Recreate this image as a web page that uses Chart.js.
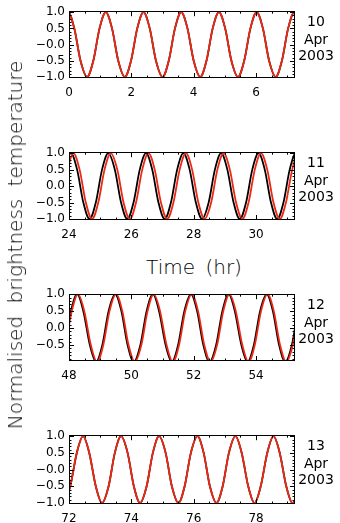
<!DOCTYPE html>
<html><head><meta charset="utf-8">
<script src="https://cdn.jsdelivr.net/npm/chart.js@4/dist/chart.umd.min.js"></script>
<style>
html,body{margin:0;padding:0;background:#fff;width:340px;height:523px;overflow:hidden;position:relative;}
canvas{position:absolute;left:0;}
.t{position:absolute;font-family:"DejaVu Sans",sans-serif;color:#000;white-space:nowrap;transform:translate(-50%,-50%);line-height:1;}
</style></head><body>
<script>
// ---------- data ----------
const panelDates = [['10','Apr','2003'],['11','Apr','2003'],['12','Apr','2003'],['13','Apr','2003']];
const xMins = [0, 24, 48, 72];
const xMaxs = [7.25, 31.25, 55.25, 79.25];
const yMins = [-1.03, -1.03, -0.97, -1.03];
const yMaxs = [1.03, 1.03, 1.0, 1.03];
const yTickValues = [-1, -0.5, 0, 0.5, 1];
const yTickLabels = [
  ['\u22121.0','\u22120.5','\u22120.0','0.5','1.0'],
  ['\u22121.0','\u22120.5','0.0','0.5','1.0'],
  ['\u22121.0','\u22120.5','0.0','0.5','1.0'],
  ['\u22121.0','\u22120.5','\u22120.0','0.5','1.0']
];

// panel 1 (10 Apr): black and red coincide
const time1 = [-0.23,-0.03,0.17,0.37,0.58,0.78,0.98,1.18,1.38,1.58,1.79,1.99,2.19,2.39,2.59,2.79,3.0,3.2,3.4,3.6,3.8,4.0,4.21,4.41,4.61,4.81,5.01,5.21,5.42,5.62,5.82,6.02,6.22,6.42,6.63,6.83,7.03,7.23,7.43,7.63];
const value1 = [0.5,1,0.5,-0.5,-1,-0.5,0.5,1,0.5,-0.5,-1,-0.5,0.5,1,0.5,-0.5,-1,-0.5,0.5,1,0.5,-0.5,-1,-0.5,0.5,1,0.5,-0.5,-1,-0.5,0.5,1,0.5,-0.5,-1,-0.5,0.5,1,0.5,-0.5];

// panel 2 (11 Apr)
const time2Red = [23.94,24.14,24.34,24.54,24.74,24.94,25.14,25.34,25.55,25.75,25.95,26.15,26.35,26.55,26.75,26.95,27.15,27.35,27.55,27.75,27.95,28.15,28.35,28.56,28.76,28.96,29.16,29.36,29.56,29.76,29.96,30.16,30.36,30.56,30.76,30.96,31.16,31.36,31.57,31.77];
const time2Black = [23.86,24.06,24.26,24.46,24.66,24.86,25.06,25.26,25.47,25.67,25.87,26.07,26.27,26.47,26.67,26.87,27.07,27.27,27.47,27.67,27.87,28.07,28.27,28.48,28.68,28.88,29.08,29.28,29.48,29.68,29.88,30.08,30.28,30.48,30.68,30.88,31.08,31.28,31.49,31.69];
const value2 = [0.5,1,0.5,-0.5,-1,-0.5,0.5,1,0.5,-0.5,-1,-0.5,0.5,1,0.5,-0.5,-1,-0.5,0.5,1,0.5,-0.5,-1,-0.5,0.5,1,0.5,-0.5,-1,-0.5,0.5,1,0.5,-0.5,-1,-0.5,0.5,1,0.5,-0.5];

// panel 3 (12 Apr)
const time3Red = [47.89,48.09,48.29,48.49,48.7,48.9,49.1,49.3,49.51,49.71,49.91,50.11,50.32,50.52,50.72,50.92,51.13,51.33,51.53,51.73,51.94,52.14,52.34,52.54,52.75,52.95,53.15,53.35,53.56,53.76,53.96,54.16,54.37,54.57,54.77,54.97,55.18,55.38,55.58,55.78];
const time3Black = [47.86,48.06,48.26,48.46,48.67,48.87,49.07,49.27,49.48,49.68,49.88,50.08,50.29,50.49,50.69,50.89,51.1,51.3,51.5,51.7,51.91,52.11,52.31,52.51,52.72,52.92,53.12,53.32,53.53,53.73,53.93,54.13,54.34,54.54,54.74,54.94,55.15,55.35,55.55,55.75];
const value3 = [-0.5,0.5,1,0.5,-0.5,-1,-0.5,0.5,1,0.5,-0.5,-1,-0.5,0.5,1,0.5,-0.5,-1,-0.5,0.5,1,0.5,-0.5,-1,-0.5,0.5,1,0.5,-0.5,-1,-0.5,0.5,1,0.5,-0.5,-1,-0.5,0.5,1,0.5];

// panel 4 (13 Apr): black and red coincide
const time4 = [71.84,72.04,72.25,72.45,72.65,72.86,73.06,73.27,73.47,73.67,73.88,74.08,74.28,74.49,74.69,74.89,75.1,75.3,75.51,75.71,75.91,76.12,76.32,76.52,76.73,76.93,77.13,77.34,77.54,77.75,77.95,78.15,78.36,78.56,78.76,78.97,79.17,79.38,79.58,79.78];
const value4 = [-1,-0.5,0.5,1,0.5,-0.5,-1,-0.5,0.5,1,0.5,-0.5,-1,-0.5,0.5,1,0.5,-0.5,-1,-0.5,0.5,1,0.5,-0.5,-1,-0.5,0.5,1,0.5,-0.5,-1,-0.5,0.5,1,0.5,-0.5,-1,-0.5,0.5,1];

const panelSeries = [
  {red:[time1,value1], black:[time1,value1]},
  {red:[time2Red,value2], black:[time2Black,value2]},
  {red:[time3Red,value3], black:[time3Black,value3]},
  {red:[time4,value4], black:[time4,value4]}
];

// ---------- layout / style ----------
const areaTops = [9, 150, 292, 433];
const areaHeights = [69, 70, 69, 71];
const PAD_TOP = 9, XAXIS_H = 24, AREA_LEFT = 69, PAD_RIGHT = 45;
const RED = 'rgb(238,40,20)';
const FONT = '"DejaVu Sans", sans-serif';

const framePlugin = {
  id: 'frame',
  afterDatasetsDraw(chart) {
    const {ctx, chartArea: a, scales: {x, y}} = chart;
    ctx.save();
    ctx.strokeStyle = '#000';
    ctx.lineWidth = 1;
    ctx.strokeRect(Math.round(a.left) + 0.5, Math.round(a.top) + 0.5,
                   Math.round(a.right - a.left) - 1, Math.round(a.bottom - a.top) - 1);
    ctx.beginPath();
    for (let k = Math.ceil(y.min * 10 - 1e-6); k <= Math.floor(y.max * 10 + 1e-6); k++) {
      const py = Math.round(y.getPixelForValue(k / 10)) + 0.5;
      const len = (k % 5 === 0) ? 5 : 2.5;
      ctx.moveTo(a.left, py); ctx.lineTo(a.left + len, py);
      ctx.moveTo(a.right, py); ctx.lineTo(a.right - len, py);
    }
    for (let k = Math.ceil(x.min * 2 - 1e-6); k <= Math.floor(x.max * 2 + 1e-6); k++) {
      const px = Math.round(x.getPixelForValue(k / 2)) + 0.5;
      const len = (k % 4 === 0) ? 5 : 2.5;
      ctx.moveTo(px, a.bottom); ctx.lineTo(px, a.bottom - len);
      ctx.moveTo(px, a.top); ctx.lineTo(px, a.top + len);
    }
    ctx.stroke();
    ctx.restore();
  }
};

function pts(pair) { return pair[0].map((t, i) => ({x: t, y: pair[1][i]})); }

for (let i = 0; i < 4; i++) {
  const cv = document.createElement('canvas');
  const h = PAD_TOP + areaHeights[i] + XAXIS_H;
  cv.width = 340; cv.height = h;
  cv.style.top = (areaTops[i] - PAD_TOP) + 'px';
  cv.style.width = '340px'; cv.style.height = h + 'px';
  document.body.appendChild(cv);
  const s = panelSeries[i];
  new Chart(cv, {
    type: 'line',
    data: {datasets: [
      {data: pts(s.red), borderColor: RED, borderWidth: 1.8, pointRadius: 0, cubicInterpolationMode: 'monotone', fill: false, order: 0},
      {data: pts(s.black), borderColor: '#000', borderWidth: 1.8, pointRadius: 0, cubicInterpolationMode: 'monotone', fill: false, order: 1}
    ]},
    options: {
      animation: false, responsive: false, maintainAspectRatio: false, devicePixelRatio: 1,
      layout: {padding: {top: PAD_TOP, right: PAD_RIGHT, left: 0, bottom: 0}},
      plugins: {legend: {display: false}, tooltip: {enabled: false}, title: {display: false}},
      scales: {
        x: {
          type: 'linear', min: xMins[i], max: xMaxs[i],
          grid: {display: false, drawTicks: false}, border: {display: false},
          ticks: {stepSize: 2, includeBounds: false, autoSkip: false, maxRotation: 0, padding: 8, color: '#000',
                  font: {family: FONT, size: 12}, callback: v => String(v)},
          afterFit: sc => { sc.height = XAXIS_H; }
        },
        y: {
          type: 'linear', min: yMins[i], max: yMaxs[i],
          grid: {display: false, drawTicks: false}, border: {display: false},
          ticks: {stepSize: 0.5, includeBounds: false, autoSkip: false, padding: 4, color: '#000',
                  font: {family: FONT, size: 12},
                  callback: v => { const j = yTickValues.findIndex(t => Math.abs(t - v) < 1e-6); return j >= 0 ? yTickLabels[i][j] : ''; }},
          afterFit: sc => { sc.width = AREA_LEFT; }
        }
      }
    },
    plugins: [framePlugin]
  });
  // date labels on the right
  const offs = [11.5, 30, 46];
  panelDates[i].forEach((txt, j) => {
    const d = document.createElement('div');
    d.className = 't';
    d.style.left = '316px';
    d.style.top = (areaTops[i] + offs[j]) + 'px';
    d.style.fontSize = '14px';
    d.textContent = txt;
    document.body.appendChild(d);
  });
}

const xt = document.createElement('div');
xt.className = 't'; xt.style.left = '194px'; xt.style.top = '267px';
xt.style.fontSize = '20px'; xt.style.fontWeight = '200'; xt.style.wordSpacing = '4px';
xt.textContent = 'Time (hr)';
document.body.appendChild(xt);

const yt = document.createElement('div');
yt.className = 't'; yt.style.left = '15px'; yt.style.top = '245px';
yt.style.fontSize = '20px'; yt.style.fontWeight = '200'; yt.style.wordSpacing = '6px';
yt.style.transform = 'translate(-50%,-50%) rotate(-90deg)';
yt.textContent = 'Normalised brightness temperature';
document.body.appendChild(yt);
</script>
</body></html>
